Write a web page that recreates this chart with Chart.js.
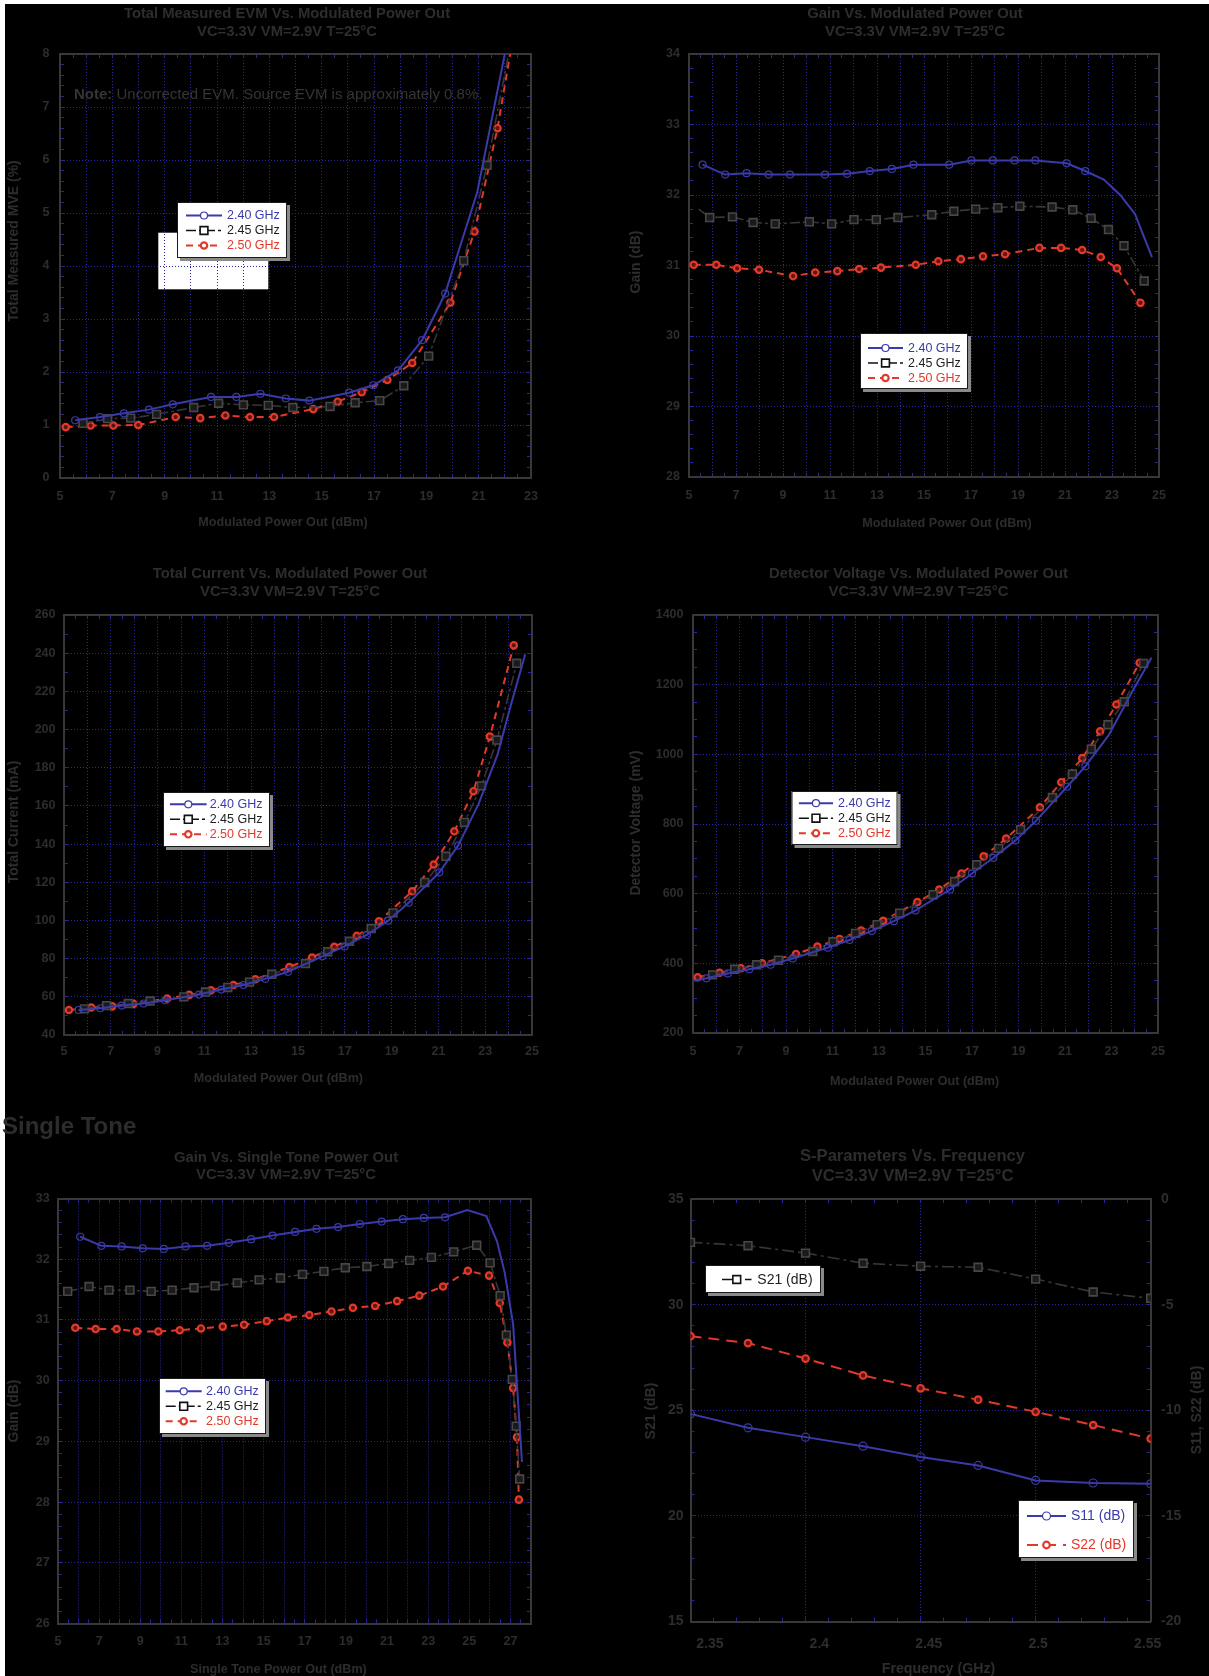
<!DOCTYPE html>
<html>
<head>
<meta charset="utf-8">
<script src="https://cdn.jsdelivr.net/npm/chart.js@4.4.1/dist/chart.umd.min.js"></script>
<style>
html,body{margin:0;padding:0;overflow:hidden;background:#fff;width:1209px;height:1676px;}
#page{position:absolute;left:5px;top:4px;width:1204px;height:1672px;background:#000;}
canvas{position:absolute;}
#single{position:absolute;left:2px;top:1111px;font:bold 24px 'Liberation Sans',Arial,sans-serif;color:#2c2c2c;line-height:30px;white-space:nowrap;}
</style>
</head>
<body>
<div id="page"></div>
<canvas id="c1"></canvas>
<canvas id="c2"></canvas>
<canvas id="c3"></canvas>
<canvas id="c4"></canvas>
<canvas id="c5"></canvas>
<canvas id="c6"></canvas>
<div id="single">Single Tone</div>
<script>
// ================= DATA =================
// Chart 1: Total Measured EVM (%) vs Modulated Power Out (dBm)
const evmX240 = [5.58, 6.53, 7.44, 8.40, 9.31, 10.77, 11.74, 12.66, 13.63, 14.53, 16.05, 16.97, 17.92, 18.84, 19.72, 20.95, 22.18];
const evmY240 = [1.09, 1.15, 1.22, 1.29, 1.39, 1.53, 1.53, 1.59, 1.50, 1.46, 1.61, 1.75, 2.03, 2.60, 3.48, 5.40, 8.45];
const evmX245 = [5.88, 6.82, 7.70, 8.69, 10.11, 11.06, 12.01, 12.96, 13.90, 15.32, 16.28, 17.22, 18.14, 19.09, 20.43, 21.32, 22.30];
const evmY245 = [1.03, 1.12, 1.13, 1.20, 1.33, 1.41, 1.38, 1.37, 1.33, 1.35, 1.42, 1.46, 1.74, 2.30, 4.10, 5.90, 8.40];
const evmX250 = [5.22, 6.17, 7.04, 7.99, 9.42, 10.36, 11.32, 12.26, 13.18, 14.68, 15.61, 16.53, 17.51, 18.46, 19.92, 20.84, 21.72, 22.34];
const evmY250 = [0.96, 0.99, 0.99, 1.00, 1.15, 1.13, 1.18, 1.15, 1.15, 1.30, 1.44, 1.62, 1.85, 2.17, 3.31, 4.65, 6.60, 8.40];

// Chart 2: Gain (dB) vs Modulated Power Out (dBm)
const gainX240 = [5.58, 6.54, 7.45, 8.39, 9.30, 10.79, 11.73, 12.69, 13.63, 14.55, 16.07, 17.02, 17.93, 18.85, 19.74, 21.07, 21.86, 22.65, 23.35, 23.98, 24.70];
const gainY240 = [32.43, 32.29, 32.31, 32.29, 32.29, 32.29, 32.30, 32.34, 32.37, 32.43, 32.43, 32.49, 32.49, 32.49, 32.49, 32.45, 32.34, 32.22, 32.00, 31.73, 31.12];
const gainX245 = [5.41, 5.88, 6.85, 7.73, 8.67, 10.12, 11.07, 12.02, 12.97, 13.89, 15.33, 16.27, 17.20, 18.14, 19.08, 20.45, 21.33, 22.11, 22.85, 23.51, 24.37];
const gainY245 = [31.80, 31.68, 31.69, 31.61, 31.59, 31.62, 31.59, 31.65, 31.65, 31.68, 31.72, 31.77, 31.80, 31.82, 31.84, 31.83, 31.79, 31.67, 31.51, 31.28, 30.78];
const gainX250 = [5.20, 6.16, 7.05, 7.98, 9.43, 10.37, 11.31, 12.24, 13.17, 14.65, 15.61, 16.57, 17.51, 18.45, 19.91, 20.83, 21.73, 22.52, 23.21, 24.21];
const gainY250 = [31.01, 31.01, 30.96, 30.94, 30.85, 30.90, 30.92, 30.95, 30.97, 31.01, 31.06, 31.09, 31.13, 31.16, 31.25, 31.25, 31.22, 31.12, 30.96, 30.47];

// Chart 3: Total Current (mA) vs Modulated Power Out (dBm)
const curX240 = [5.62, 6.55, 7.47, 8.40, 9.33, 10.77, 11.72, 12.67, 13.60, 14.57, 16.04, 16.99, 17.94, 18.85, 19.73, 21.04, 21.84, 22.71, 23.53, 24.02, 24.71];
const curY240 = [53.1, 54.0, 55.4, 56.5, 58.2, 61.2, 63.8, 66.2, 69.4, 73.1, 81.2, 86.4, 92.4, 99.9, 109.3, 125.2, 139.2, 160.8, 187.0, 209.4, 239.4];
const curX245 = [5.87, 6.82, 7.75, 8.68, 10.12, 11.05, 12.00, 12.93, 13.88, 15.32, 16.27, 17.20, 18.13, 19.06, 20.42, 21.32, 22.11, 22.84, 23.50, 24.35];
const curY245 = [53.7, 55.4, 56.5, 57.8, 60.0, 62.5, 64.9, 67.7, 71.8, 77.4, 83.6, 89.1, 95.8, 104.0, 119.9, 133.6, 151.4, 170.5, 194.5, 234.7];
const curX250 = [5.21, 6.16, 7.06, 7.96, 9.41, 10.35, 11.28, 12.24, 13.18, 14.63, 15.60, 16.55, 17.51, 18.46, 19.88, 20.80, 21.68, 22.50, 23.20, 24.22];
const curY250 = [53.1, 54.4, 55.0, 56.3, 59.1, 61.0, 63.4, 66.2, 69.2, 75.6, 80.6, 86.2, 91.9, 99.5, 115.3, 129.3, 146.7, 167.7, 196.3, 244.1];

// Chart 4: Detector Voltage (mV) vs Modulated Power Out (dBm)
const detX240 = [5.05, 5.58, 6.50, 7.42, 8.34, 9.29, 10.80, 11.73, 12.69, 13.64, 14.57, 16.06, 17.00, 17.92, 18.87, 19.75, 21.09, 21.88, 22.88, 23.88, 24.72];
const detY240 = [350, 357, 371, 383, 396, 414, 445, 467, 493, 521, 552, 612, 658, 703, 753, 809, 907, 966, 1055, 1179, 1277];
const detX245 = [5.84, 6.79, 7.74, 8.68, 10.15, 11.02, 11.99, 12.92, 13.89, 15.33, 16.25, 17.20, 18.15, 19.09, 20.46, 21.32, 22.13, 22.85, 23.55, 24.38];
const detY245 = [367, 383, 396, 409, 434, 462, 486, 511, 544, 597, 635, 683, 730, 784, 876, 943, 1015, 1085, 1151, 1261];
const detX250 = [5.20, 6.14, 7.06, 7.97, 9.43, 10.35, 11.30, 12.23, 13.18, 14.65, 15.59, 16.55, 17.50, 18.47, 19.92, 20.84, 21.74, 22.51, 23.21, 24.21];
const detY250 = [360, 373, 386, 400, 427, 448, 470, 494, 522, 576, 612, 658, 707, 758, 848, 920, 989, 1066, 1143, 1263];

// Chart 5: Gain (dB) vs Single Tone Power Out (dBm)
const stX240 = [6.08, 7.11, 8.09, 9.12, 10.14, 11.20, 12.25, 13.31, 14.39, 15.43, 16.53, 17.57, 18.62, 19.68, 20.74, 21.77, 22.79, 23.82, 24.90, 25.83, 26.35, 26.72, 27.13, 27.56];
const stY240 = [32.37, 32.22, 32.21, 32.18, 32.17, 32.21, 32.22, 32.27, 32.33, 32.39, 32.45, 32.50, 32.53, 32.58, 32.62, 32.66, 32.68, 32.69, 32.81, 32.71, 32.29, 31.78, 30.93, 28.66];
const stX245 = [5.47, 6.51, 7.48, 8.50, 9.53, 10.55, 11.61, 12.64, 13.72, 14.78, 15.82, 16.89, 17.93, 18.97, 20.02, 21.08, 22.10, 23.16, 24.24, 25.36, 26.01, 26.50, 26.80, 27.09, 27.28, 27.45];
const stY245 = [31.47, 31.55, 31.49, 31.49, 31.47, 31.49, 31.53, 31.56, 31.61, 31.66, 31.69, 31.75, 31.80, 31.86, 31.88, 31.93, 31.98, 32.03, 32.12, 32.23, 31.94, 31.40, 30.75, 30.02, 29.25, 28.38];
const stX250 = [5.84, 6.83, 7.85, 8.84, 9.88, 10.92, 11.95, 13.01, 14.05, 15.15, 16.18, 17.22, 18.30, 19.34, 20.42, 21.49, 22.57, 23.72, 24.93, 25.96, 26.48, 26.85, 27.13, 27.32, 27.41];
const stY250 = [30.87, 30.85, 30.85, 30.81, 30.81, 30.83, 30.86, 30.89, 30.92, 30.98, 31.04, 31.08, 31.14, 31.20, 31.23, 31.31, 31.40, 31.55, 31.81, 31.73, 31.28, 30.63, 29.88, 29.07, 28.04];

// Chart 6: S-Parameters vs Frequency (GHz)
const freqGHz = [2.35, 2.375, 2.40, 2.425, 2.45, 2.475, 2.50, 2.525, 2.55];
const s21dB = [32.95, 32.79, 32.44, 31.96, 31.82, 31.77, 31.21, 30.60, 30.30];
const s11dB = [-10.17, -10.83, -11.27, -11.70, -12.21, -12.61, -13.32, -13.44, -13.48];
const s22dB = [-6.49, -6.82, -7.55, -8.35, -8.96, -9.50, -10.07, -10.70, -11.34];
// frequency tick labels (printed slightly compressed in the original)
const freqTickLabels = [2.35, 2.40, 2.45, 2.50, 2.55];

// Text
const subTitle = 'VC=3.3V VM=2.9V T=25°C';
const noteBold = 'Note:';
const noteRest = ' Uncorrected EVM. Source EVM is approximately 0.8%.';

// ================= STYLE =================
const FONT = "'Liberation Sans', Arial, Helvetica, sans-serif";
const TXT = '#2d2d2d';
const FRAME = '#383838';
const GRID = '#26269e';
const BLUE = '#3a3aaa';
const RED = '#e2392b';
const DARK = '#363636';
const TL = 4;

const S240 = {label: '2.40 GHz', color: BLUE, text: BLUE, width: 2, dash: [], marker: 'circle', r: 3.5, pbw: 1.2, fill: 'rgba(0,0,0,0)'};
const S245 = {label: '2.45 GHz', color: DARK, pcolor: '#474747', lcolor: '#111', text: '#1e1e1e', width: 1.6, dash: [10, 3, 3, 3], marker: 'rect', r: 5.5, pbw: 1.6, fill: '#1a1a1a'};
const S250 = {label: '2.50 GHz', color: RED, text: RED, width: 2, dash: [7, 5], marker: 'circle', r: 3.2, pbw: 2.2, fill: '#5a1510'};
const S21 = {label: 'S21 (dB)', color: DARK, pcolor: '#474747', lcolor: '#111', text: '#1e1e1e', width: 1.6, dash: [12, 4, 3, 4], marker: 'rect', r: 5.5, pbw: 1.6, fill: '#1a1a1a'};
const S11 = {label: 'S11 (dB)', color: BLUE, text: BLUE, width: 2, dash: [], marker: 'circle', r: 4, pbw: 1.2, fill: 'rgba(0,0,0,0)'};
const S22 = {label: 'S22 (dB)', color: RED, text: RED, width: 2, dash: [11, 7], marker: 'circle', r: 3.3, pbw: 2.2, fill: '#5a1510'};

const F15 = {title: 14.8, titleLH: 1.18, tick: 12.5, xTitle: 12.6, yTitle: 14, legend: 12.5};
const F6 = {title: 16.6, titleLH: 1.205, tick: 14, xTitle: 14.2, yTitle: 14, legend: 14};

function isStep(v, step, start) {
  const q = (v - start) / step;
  return Math.abs(q - Math.round(q)) < 1e-6;
}
const intFmt = (v) => String(Math.round(v));
const ghzFmt = (v) => String(Math.round(v * 100) / 100);

function series(xs, ys, st, m0, m1, yAxisID) {
  return {
    label: st.label,
    data: xs.map((x, i) => ({x: x, y: ys[i]})),
    showLine: true, fill: false, tension: 0,
    borderColor: st.color, borderWidth: st.width, borderDash: st.dash,
    pointStyle: st.marker,
    pointRadius: (c) => (c.dataIndex >= m0 && c.dataIndex < m1) ? st.r : 0,
    pointBorderColor: st.pcolor || st.color, pointBorderWidth: st.pbw, pointBackgroundColor: st.fill,
    pointHoverRadius: 0,
    xAxisID: 'x', yAxisID: yAxisID || 'y'
  };
}

function axisOpts(a, side, f) {
  const isX = side.axis === 'x';
  return {
    type: 'linear', axis: side.axis, position: side.position, weight: side.weight || 0,
    min: a.min, max: a.max,
    afterFit: (s) => { if (isX) { s.height = side.size; } else { s.width = side.size; } },
    border: {display: side.noBorder ? false : true, color: FRAME, width: 2, dash: [1, 2]},
    grid: {
      display: side.noGrid ? false : true, drawOnChartArea: !!side.drawGrid, drawTicks: !side.noGrid,
      tickLength: -TL, tickWidth: 1, tickColor: GRID, lineWidth: 1,
      color: (c) => (c.tick && isStep(c.tick.value, a.grid, a.min)) ? GRID : 'rgba(0,0,0,0)'
    },
    ticks: {
      display: !!side.labels, stepSize: a.minor, autoSkip: false, maxRotation: 0, minRotation: 0,
      includeBounds: side.noBounds ? false : true, padding: side.tickPad || 0, color: TXT,
      font: {family: FONT, size: f.tick, weight: 'bold', lineHeight: 1.2},
      callback: (v) => isStep(v, a.labStep, a.labStart) ? a.fmt(v) : ''
    },
    title: {display: false}
  };
}

// ---- decorations (axis titles, legend boxes, note, white patch) ----
const DECOR = {};

function drawMarker(ctx, st, x, y, fill) {
  ctx.save();
  ctx.lineWidth = st.pbw;
  ctx.strokeStyle = st.lcolor || st.color;
  ctx.fillStyle = fill;
  ctx.beginPath();
  if (st.marker === 'rect') {
    const s = st.r * Math.SQRT1_2;
    ctx.rect(x - s, y - s, 2 * s, 2 * s);
  } else {
    ctx.arc(x, y, st.r, 0, Math.PI * 2);
  }
  ctx.fill();
  ctx.stroke();
  ctx.restore();
}

function drawLegendBox(ctx, lg, ox, oy) {
  const x = lg.x - ox, y = lg.y - oy;
  ctx.save();
  ctx.fillStyle = '#8a8a8a';
  ctx.fillRect(x + 3, y + 3, lg.w, lg.h);
  ctx.fillStyle = '#ffffff';
  ctx.fillRect(x, y, lg.w, lg.h);
  ctx.strokeStyle = '#1a1a1a';
  ctx.lineWidth = 1;
  ctx.strokeRect(x + 0.5, y + 0.5, lg.w - 1, lg.h - 1);
  lg.rows.forEach((st, i) => {
    const yy = y + lg.row0 + i * lg.gap;
    ctx.strokeStyle = st.lcolor || st.color;
    ctx.lineWidth = st.width;
    ctx.setLineDash(st.dash);
    ctx.beginPath();
    ctx.moveTo(x + lg.s0, yy);
    ctx.lineTo(x + lg.s1, yy);
    ctx.stroke();
    ctx.setLineDash([]);
    drawMarker(ctx, st, x + (lg.s0 + lg.s1) / 2, yy, '#ffffff');
    ctx.fillStyle = st.text;
    ctx.font = lg.size + 'px ' + FONT;
    ctx.textBaseline = 'middle';
    ctx.textAlign = 'left';
    ctx.fillText(st.label, x + lg.tx, yy + 0.5);
  });
  ctx.restore();
}

const decorPlugin = {
  id: 'decor',
  beforeDraw(chart) {
    const o = DECOR[chart.canvas.id];
    if (!o) return;
    const ctx = chart.ctx;
    (o.patches || []).forEach((p) => {
      ctx.save();
      ctx.fillStyle = '#ffffff';
      ctx.fillRect(p.x - o.ox, p.y - o.oy, p.w, p.h);
      ctx.restore();
    });
  },
  afterDraw(chart) {
    const o = DECOR[chart.canvas.id];
    if (!o) return;
    const ctx = chart.ctx;
    (o.notes || []).forEach((n) => {
      ctx.save();
      ctx.fillStyle = n.color;
      ctx.textBaseline = 'alphabetic';
      ctx.textAlign = 'left';
      let x = n.x - o.ox;
      const y = n.y - o.oy;
      ctx.font = 'bold ' + n.size + 'px ' + FONT;
      ctx.fillText(n.bold, x, y);
      x += ctx.measureText(n.bold).width;
      ctx.font = n.size + 'px ' + FONT;
      ctx.fillText(n.rest, x, y);
      ctx.restore();
    });
    (o.texts || []).forEach((t) => {
      ctx.save();
      ctx.translate(t.x - o.ox, t.y - o.oy);
      if (t.vertical) ctx.rotate(-Math.PI / 2);
      ctx.fillStyle = TXT;
      ctx.font = 'bold ' + t.size + 'px ' + FONT;
      ctx.textAlign = 'center';
      ctx.textBaseline = 'middle';
      ctx.fillText(t.text, 0, 0);
      ctx.restore();
    });
    (o.legends || []).forEach((lg) => drawLegendBox(ctx, lg, o.ox, o.oy));
  }
};

// ---- chart builder ----
function makeChart(id, box, f, titleLine1, xA, yA, datasets, extra) {
  const cv = document.getElementById(id);
  cv.width = box.w; cv.height = box.h;
  cv.style.left = box.x + 'px'; cv.style.top = box.y + 'px';
  cv.style.width = box.w + 'px'; cv.style.height = box.h + 'px';

  const tLH = f.title * f.titleLH;
  const tickLH = f.tick * 1.2;
  const Wy = box.L - box.x;
  const WyR = box.x + box.w - box.R;
  const Hx = box.y + box.h - box.B;
  const tPadTop = box.t1 - box.y - tLH / 2;
  const tPadBottom = box.T - box.y - tPadTop - 2 * tLH;
  const yTickPad = box.L + TL - box.yLabR;

  const scales = {};
  if (extra && extra.xLab) {
    // frame axis without labels + separate label axis below it
    scales.x = axisOpts(xA, {axis: 'x', position: 'bottom', size: 0, labels: false, drawGrid: true, weight: 0}, f);
    scales.xLab = axisOpts(extra.xLab, {axis: 'x', position: 'bottom', size: Hx, labels: true,
      tickPad: box.xLab - box.B - tickLH / 2, drawGrid: false, noGrid: true, noBorder: true, noBounds: true, weight: 1}, f);
  } else {
    scales.x = axisOpts(xA, {axis: 'x', position: 'bottom', size: Hx, labels: true,
      tickPad: box.xLab - box.B + TL - tickLH / 2, drawGrid: true}, f);
  }
  scales.xTop = axisOpts(xA, {axis: 'x', position: 'top', size: 0, labels: false, drawGrid: false}, f);
  scales.y = axisOpts(yA, {axis: 'y', position: 'left', size: Wy, labels: true, tickPad: yTickPad, drawGrid: true}, f);
  if (extra && extra.yR) {
    scales.yR = axisOpts(extra.yR, {axis: 'y', position: 'right', size: WyR, labels: true, tickPad: box.yRLabL - box.R + TL, drawGrid: false}, f);
  } else {
    scales.yR = axisOpts(yA, {axis: 'y', position: 'right', size: WyR, labels: false, drawGrid: false}, f);
  }

  const decor = Object.assign({ox: box.x, oy: box.y}, (extra && extra.decor) || {});
  decor.texts = [
    {text: xA.title, x: box.xTitleX, y: box.xTitle, size: f.xTitle, vertical: false},
    {text: yA.title, x: box.yTitle, y: box.yTitleY, size: f.yTitle, vertical: true}
  ].concat(decor.texts || []);
  DECOR[id] = decor;

  return new Chart(cv, {
    type: 'scatter',
    data: {datasets: datasets},
    options: {
      responsive: false, maintainAspectRatio: false, animation: false, devicePixelRatio: 1,
      events: [],
      layout: {padding: 0},
      plugins: {
        legend: {display: false},
        tooltip: {enabled: false},
        title: {
          display: true, text: [titleLine1, subTitle], color: TXT, fullSize: true,
          font: {family: FONT, size: f.title, weight: 'bold', lineHeight: f.titleLH},
          padding: {top: tPadTop, bottom: tPadBottom}
        }
      },
      scales: scales
    },
    plugins: [decorPlugin]
  });
}

const LG15 = (x, y, w, h, row0, s0, s1, tx) => ({x, y, w, h, row0, gap: 15, s0, s1, tx, size: 12.5, rows: [S240, S245, S250]});
const ALL = Infinity;

// ---- Chart 1 ----
makeChart('c1',
  {x: 5, y: 4, w: 564, h: 536, L: 60, T: 54, R: 531, B: 478, t1: 14, xLab: 497, xTitle: 523, xTitleX: 283, yTitle: 14.5, yTitleY: 241, yLabR: 49.5},
  F15, 'Total Measured EVM Vs. Modulated Power Out',
  {min: 5, max: 23, minor: 0.5, grid: 1, labStart: 5, labStep: 2, fmt: intFmt, title: 'Modulated Power Out (dBm)'},
  {min: 0, max: 8, minor: 0.2, grid: 1, labStart: 0, labStep: 1, fmt: intFmt, title: 'Total Measured MVE (%)'},
  [series(evmX240, evmY240, S240, 0, 15), series(evmX245, evmY245, S245, 0, 16), series(evmX250, evmY250, S250, 0, 17)],
  {decor: {
    patches: [{x: 158.3, y: 232.7, w: 110, h: 56.6}],
    notes: [{x: 74, y: 99, size: 15, color: '#353535', bold: noteBold, rest: noteRest}],
    legends: [LG15(177, 202, 110, 56, 13.5, 9, 45, 50)]
  }});

// ---- Chart 2 ----
makeChart('c2',
  {x: 621, y: 4, w: 588, h: 536, L: 689, T: 54, R: 1159, B: 477, t1: 14, xLab: 496, xTitle: 523.5, xTitleX: 947, yTitle: 636, yTitleY: 262, yLabR: 680},
  F15, 'Gain Vs. Modulated Power Out',
  {min: 5, max: 25, minor: 0.5, grid: 1, labStart: 5, labStep: 2, fmt: intFmt, title: 'Modulated Power Out (dBm)'},
  {min: 28, max: 34, minor: 0.2, grid: 1, labStart: 28, labStep: 1, fmt: intFmt, title: 'Gain (dB)'},
  [series(gainX240, gainY240, S240, 0, 17), series(gainX245, gainY245, S245, 1, ALL), series(gainX250, gainY250, S250, 0, ALL)],
  {decor: {legends: [LG15(860, 333, 108, 56, 15, 8, 43, 48)]}});

// ---- Chart 3 ----
makeChart('c3',
  {x: 5, y: 540, w: 570, h: 560, L: 64, T: 615, R: 532, B: 1035, t1: 574, xLab: 1051.4, xTitle: 1078.5, xTitleX: 278.4, yTitle: 14.5, yTitleY: 822, yLabR: 55.5},
  F15, 'Total Current Vs. Modulated Power Out',
  {min: 5, max: 25, minor: 0.5, grid: 1, labStart: 5, labStep: 2, fmt: intFmt, title: 'Modulated Power Out (dBm)'},
  {min: 40, max: 260, minor: 10, grid: 20, labStart: 40, labStep: 20, fmt: intFmt, title: 'Total Current (mA)'},
  [series(curX240, curY240, S240, 0, 17), series(curX245, curY245, S245, 0, ALL), series(curX250, curY250, S250, 0, ALL)],
  {decor: {legends: [LG15(163, 792, 107, 55, 12.3, 7, 43.6, 46.7)]}});

// ---- Chart 4 ----
makeChart('c4',
  {x: 628, y: 540, w: 581, h: 560, L: 693, T: 615, R: 1158, B: 1033, t1: 574, xLab: 1051.4, xTitle: 1082, xTitleX: 914.6, yTitle: 636, yTitleY: 823, yLabR: 683.5},
  F15, 'Detector Voltage Vs. Modulated Power Out',
  {min: 5, max: 25, minor: 0.5, grid: 1, labStart: 5, labStep: 2, fmt: intFmt, title: 'Modulated Power Out (dBm)'},
  {min: 200, max: 1400, minor: 50, grid: 200, labStart: 200, labStep: 200, fmt: intFmt, title: 'Detector Voltage (mV)'},
  [series(detX240, detY240, S240, 1, 18), series(detX245, detY245, S245, 0, ALL), series(detX250, detY250, S250, 0, ALL)],
  {decor: {legends: [LG15(791.5, 791, 106, 54, 12.2, 7.4, 41.5, 46.5)]}});

// ---- Chart 5 ----
makeChart('c5',
  {x: 5, y: 1100, w: 562, h: 590, L: 58, T: 1198.5, R: 531, B: 1623.5, t1: 1157.7, xLab: 1641.8, xTitle: 1670, xTitleX: 278.4, yTitle: 14.5, yTitleY: 1411, yLabR: 49.7},
  F15, 'Gain Vs. Single Tone Power Out',
  {min: 5, max: 28, minor: 0.5, grid: 1, labStart: 5, labStep: 2, fmt: intFmt, title: 'Single Tone Power Out (dBm)'},
  {min: 26, max: 33, minor: 0.2, grid: 1, labStart: 26, labStep: 1, fmt: intFmt, title: 'Gain (dB)'},
  [series(stX240, stY240, S240, 0, 18), series(stX245, stY245, S245, 0, ALL), series(stX250, stY250, S250, 0, ALL)],
  {decor: {legends: [LG15(159, 1378, 107, 56, 13.3, 6.7, 42.7, 47)]}});

// ---- Chart 6 ----
// label axis range chosen so the printed labels sit where the original prints them
const c6Box = {x: 616, y: 1100, w: 593, h: 590, L: 690.5, T: 1199, R: 1150.7, B: 1621.6, t1: 1156, xLab: 1644, xTitle: 1668.6, xTitleX: 938.5, yTitle: 651, yTitleY: 1411, yLabR: 683.5, yRLabL: 1161};
const labPx0 = 709.9, labPx1 = 1147.6; // centres of first/last printed label
const labPerPx = (freqTickLabels[freqTickLabels.length - 1] - freqTickLabels[0]) / (labPx1 - labPx0);
makeChart('c6', c6Box,
  F6, 'S-Parameters Vs. Frequency',
  {min: 2.35, max: 2.55, minor: 0.01, grid: 0.05, labStart: 2.35, labStep: 0.05, fmt: ghzFmt, title: 'Frequency (GHz)'},
  {min: 15, max: 35, minor: 1, grid: 5, labStart: 15, labStep: 5, fmt: intFmt, title: 'S21 (dB)'},
  [series(freqGHz, s21dB, S21, 0, ALL, 'y'), series(freqGHz, s11dB, S11, 0, ALL, 'yR'), series(freqGHz, s22dB, S22, 0, ALL, 'yR')],
  {
    xLab: {
      min: freqTickLabels[0] - (labPx0 - c6Box.L) * labPerPx,
      max: freqTickLabels[freqTickLabels.length - 1] + (c6Box.R - labPx1) * labPerPx,
      minor: 0.05, grid: 0.05, labStart: 2.35, labStep: 0.05, fmt: ghzFmt
    },
    yR: {min: -20, max: 0, minor: 1, grid: 5, labStart: -20, labStep: 5, fmt: intFmt},
    decor: {
      texts: [{text: 'S11, S22 (dB)', x: 1197, y: 1410, size: 14, vertical: true}],
      legends: [
        {x: 705, y: 1265, w: 116, h: 28, row0: 14.5, gap: 29, s0: 17, s1: 46.5, tx: 52.3, size: 14, rows: [S21]},
        {x: 1018, y: 1500, w: 116, h: 58, row0: 16, gap: 29, s0: 9, s1: 48, tx: 53, size: 14, rows: [S11, S22]}
      ]
    }
  });
</script>
</body>
</html>
